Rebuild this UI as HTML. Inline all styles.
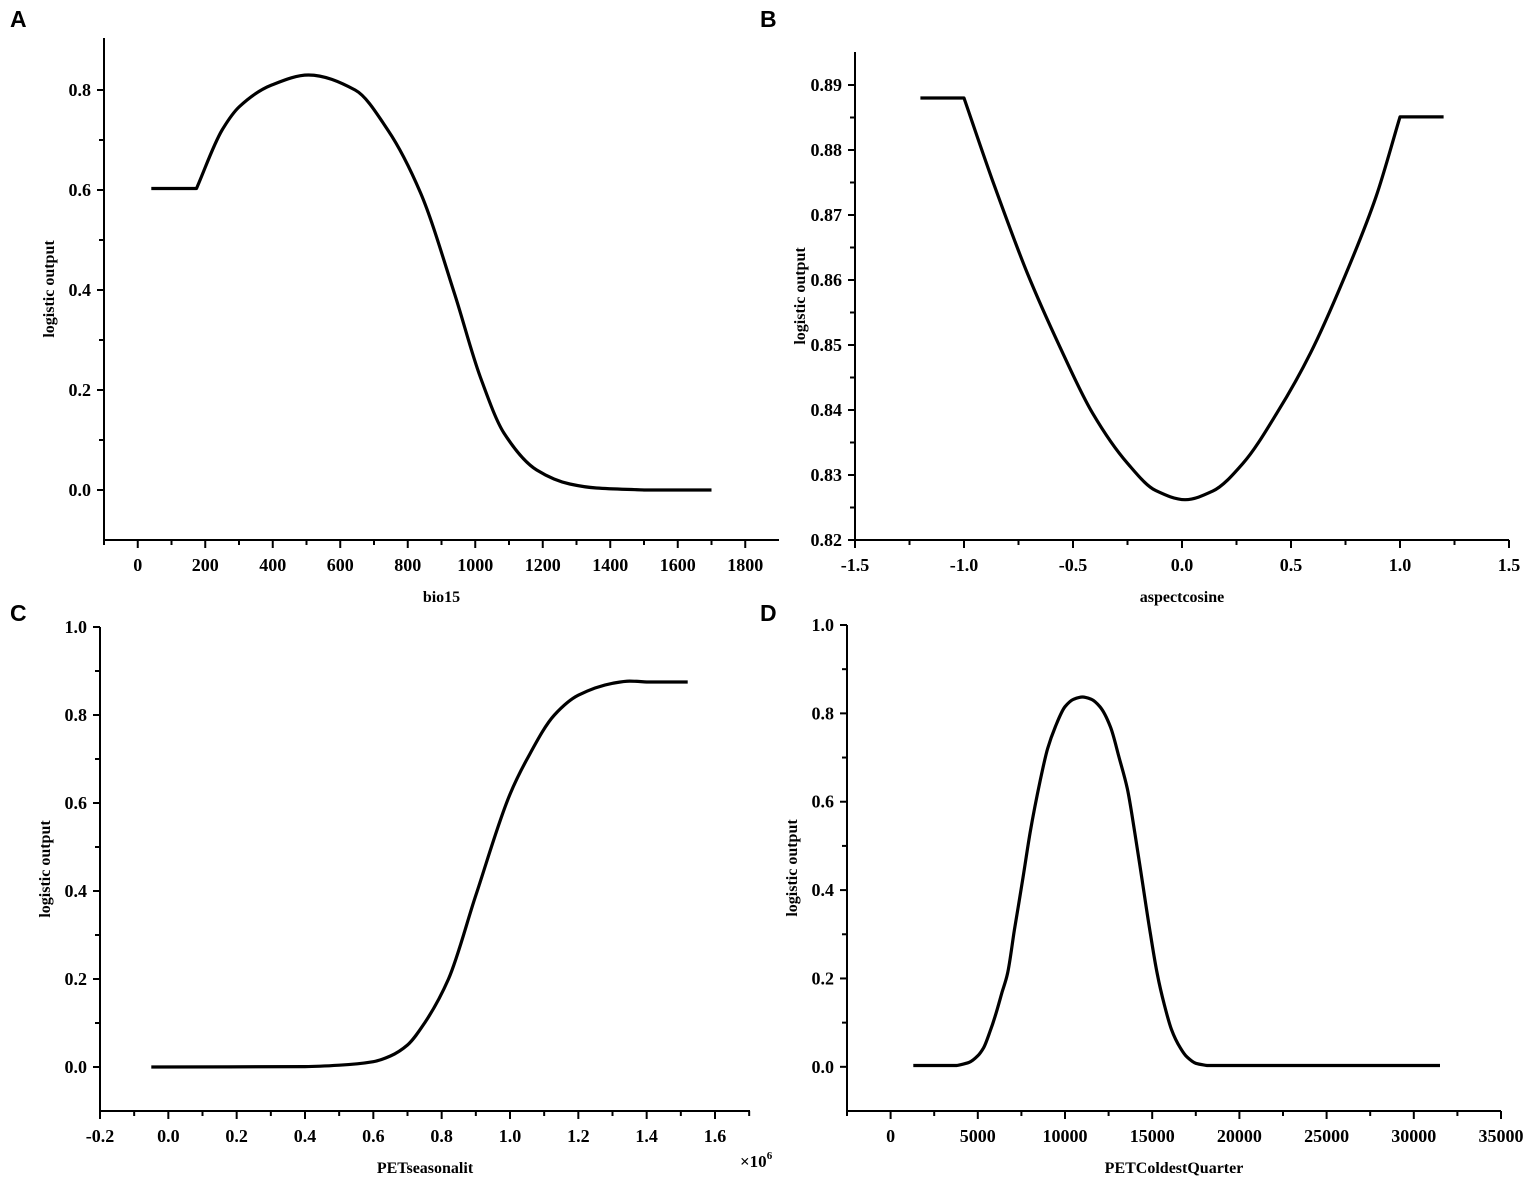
<!DOCTYPE html>
<html><head><meta charset="utf-8"><style>
html,body{margin:0;padding:0;background:#fff}
svg{display:block}
text{font-family:"Liberation Serif",serif;font-weight:bold;fill:#000}
.lbl{font-family:"Liberation Sans",sans-serif;font-size:23px}
</style></head><body>
<svg id="fig" width="1535" height="1187" viewBox="0 0 1535 1187" xmlns="http://www.w3.org/2000/svg">
<text class="lbl" x="10" y="27">A</text>
<text class="lbl" x="760" y="27">B</text>
<text class="lbl" x="10" y="621">C</text>
<text class="lbl" x="760" y="621">D</text>
</svg>
<script>
// Panel A data
const aX = [40,174,250,300,397,506,644,741,838,938,1015,1085,1182,1280,1359,1500,1700];
const aY = [0.603,0.603,0.72,0.766,0.81,0.83,0.80,0.72,0.594,0.394,0.226,0.114,0.04,0.012,0.004,0,0];
const aXTicks = [0,200,400,600,800,1000,1200,1400,1600,1800];
const aYTicks = [0.0,0.2,0.4,0.6,0.8];
// Panel B data
const bX = [-1.2,-1.0,-0.87,-0.71,-0.56,-0.41,-0.25,-0.12,0.014,0.14,0.28,0.435,0.59,0.74,0.89,1.0,1.2];
const bY = [0.888,0.888,0.8754,0.8611,0.8497,0.8395,0.8318,0.8276,0.8262,0.8275,0.8318,0.8395,0.8488,0.86,0.8728,0.8851,0.8851];
const bXTicks = [-1.5,-1.0,-0.5,0.0,0.5,1.0,1.5];
const bYTicks = [0.82,0.83,0.84,0.85,0.86,0.87,0.88,0.89];
// Panel C data (x in 1e6)
const cX = [-0.05,0.4,0.5,0.6,0.65,0.7,0.75,0.82,0.9,1.0,1.05,1.13,1.2,1.3,1.35,1.4,1.52];
const cY = [0,0.001,0.004,0.012,0.025,0.05,0.1,0.2,0.39,0.62,0.70,0.80,0.845,0.872,0.877,0.875,0.875];
const cXTicks = [-0.2,0.0,0.2,0.4,0.6,0.8,1.0,1.2,1.4,1.6];
const cYTicks = [0.0,0.2,0.4,0.6,0.8,1.0];
// Panel D data
const dX = [1300,3800,4500,5000,5330,5700,6000,6400,6700,7100,7560,8000,8590,9000,9450,10000,10500,11000,11500,12000,12600,13100,13570,14000,14430,14900,15290,15700,16100,16610,17000,17500,18150,31500];
const dY = [0.003,0.003,0.01,0.025,0.043,0.08,0.115,0.17,0.21,0.31,0.42,0.53,0.65,0.72,0.77,0.815,0.832,0.837,0.832,0.815,0.77,0.70,0.63,0.53,0.42,0.30,0.21,0.14,0.085,0.043,0.022,0.008,0.003,0.003];
const dXTicks = [0,5000,10000,15000,20000,25000,30000,35000];
const dYTicks = [0.0,0.2,0.4,0.6,0.8,1.0];

const NS = "http://www.w3.org/2000/svg";
const svg = document.getElementById('fig');
function mk(tag, attrs, parent){
  const e = document.createElementNS(NS, tag);
  for (const k in attrs) e.setAttribute(k, attrs[k]);
  (parent||svg).appendChild(e);
  return e;
}
// monotone cubic path in pixel space; sharp corners where a flat segment meets a slope
function monoPath(px, py){
  const n = px.length, dl = [], mL = [], mR = [];
  for (let i=0;i<n-1;i++) dl.push((py[i+1]-py[i])/(px[i+1]-px[i]));
  mL[0]=mR[0]=dl[0]; mL[n-1]=mR[n-1]=dl[n-2];
  for (let i=1;i<n-1;i++){
    const a=dl[i-1], b=dl[i];
    if ((Math.abs(a)<1e-9) !== (Math.abs(b)<1e-9)) { mL[i]=a; mR[i]=b; }
    else if (a*b <= 0) { mL[i]=mR[i]=0; }
    else { const w1=2*(px[i+1]-px[i])+(px[i]-px[i-1]), w2=(px[i+1]-px[i])+2*(px[i]-px[i-1]);
      mL[i]=mR[i]=(w1+w2)/(w1/a+w2/b); }
  }
  let d = 'M'+px[0].toFixed(1)+','+py[0].toFixed(1);
  for (let i=0;i<n-1;i++){
    const h=(px[i+1]-px[i])/3;
    d += 'C'+(px[i]+h).toFixed(1)+','+(py[i]+mR[i]*h).toFixed(1)+' '+(px[i+1]-h).toFixed(1)+','+(py[i+1]-mL[i+1]*h).toFixed(1)+' '+px[i+1].toFixed(1)+','+py[i+1].toFixed(1);
  }
  return d;
}
function panel(p){
  const g = mk('g', {});
  
  
  const sx = v => p.x0 + (v - p.xmin) / (p.xmax - p.xmin) * (p.x1 - p.x0);
  const sy = v => p.y1 - (v - p.ymin) / (p.ymax - p.ymin) * (p.y1 - p.y0);
  const ax = mk('path', {d:`M${p.x0},${p.ytop} L${p.x0},${p.y1} L${p.xright},${p.y1}`, fill:'none', stroke:'#000', 'stroke-width':2}, g);
  
  
  p.yTicks.forEach((v, i) => {
    const y = sy(v);
    mk('line', {x1:p.x0-7, x2:p.x0, y1:y, y2:y, stroke:'#000','stroke-width':2}, g);
    const t = mk('text', {x:p.x0-13, y:y+6, 'text-anchor':'end','font-size':18}, g);
    t.textContent = v.toFixed(p.yDec);
    
    
    if (i < p.yTicks.length - 1) {
      const ym = sy((v + p.yTicks[i+1]) / 2);
      mk('line', {x1:p.x0-5, x2:p.x0, y1:ym, y2:ym, stroke:'#000','stroke-width':2}, g);
    }
  });
  p.xTicks.forEach((v, i) => {
    const x = sx(v);
    mk('line', {x1:x, x2:x, y1:p.y1, y2:p.y1+8, stroke:'#000','stroke-width':2}, g);
    const t = mk('text', {x:x, y:p.y1+31, 'text-anchor':'middle','font-size':18}, g);
    t.textContent = v.toFixed(p.xDec);
    
    
    if (i < p.xTicks.length - 1) {
      const xm = sx((v + p.xTicks[i+1]) / 2);
      mk('line', {x1:xm, x2:xm, y1:p.y1, y2:p.y1+5, stroke:'#000','stroke-width':2}, g);
    }
  });
  if (p.xminor !== undefined) { const xm = sx(p.xminor); mk('line', {x1:xm, x2:xm, y1:p.y1, y2:p.y1+5, stroke:'#000','stroke-width':2}, g); }
  const xt = mk('text', {x:(p.x0+p.xright)/2, y:p.y1+62, 'text-anchor':'middle','font-size':16}, g);
  xt.textContent = p.xTitle;
  
  
  const yc = (p.ytop + p.y1) / 2;
  const yt = mk('text', {x:0, y:0, 'text-anchor':'middle','font-size':16, transform:`translate(${p.x0-50},${yc}) rotate(-90)`}, g);
  yt.textContent = 'logistic output';
  
  
  const px = p.xs.map(sx), py = p.ys.map(sy);
  const line = mk('path', {d:monoPath(px, py), fill:'none', stroke:'#000','stroke-width':3.2,'stroke-linejoin':'round'}, g);
  
  
  return g;
}
panel({id:'a', xs:aX, ys:aY, xTicks:aXTicks, yTicks:aYTicks, xDec:0, yDec:1,
  x0:104, x1:779, xmin:-100, xmax:1900, xright:779, xminor:-100,
  y0:40, y1:540, ymin:-0.1, ymax:0.9, ytop:38, xTitle:'bio15'});
panel({id:'b', xs:bX, ys:bY, xTicks:bXTicks, yTicks:bYTicks, xDec:1, yDec:2,
  x0:855, x1:1509, xmin:-1.5, xmax:1.5, xright:1509,
  y0:85, y1:540, ymin:0.82, ymax:0.89, ytop:52, xTitle:'aspectcosine'});
panel({id:'c', xs:cX, ys:cY, xTicks:cXTicks, yTicks:cYTicks, xDec:1, yDec:1,
  x0:100, x1:715, xmin:-0.2, xmax:1.6, xright:750, xminor:1.7,
  y0:627, y1:1111, ymin:-0.1, ymax:1.0, ytop:627, xTitle:'PETseasonalit'});
panel({id:'d', xs:dX, ys:dY, xTicks:dXTicks, yTicks:dYTicks, xDec:0, yDec:1,
  x0:847, x1:1501, xmin:-2500, xmax:35000, xright:1501, xminor:-2500,
  y0:625, y1:1111, ymin:-0.1, ymax:1.0, ytop:625, xTitle:'PETColdestQuarter'});
const ex = mk('text', {x:740, y:1167, 'font-size':17});
ex.innerHTML = '×10<tspan dy="-8" font-size="11">6</tspan>';


</script>
</body></html>
